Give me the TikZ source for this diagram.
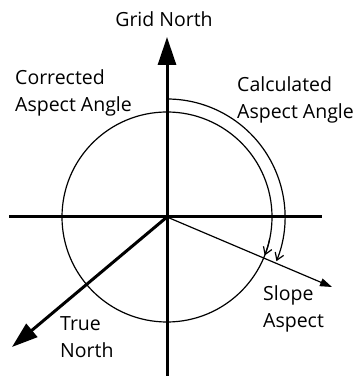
\documentclass[tikz,border=0pt]{standalone}
\usepackage{fontspec}
\setmainfont{Open Sans}
\usetikzlibrary{arrows.meta}
\begin{document}
\begin{tikzpicture}[x=1pt,y=1pt,
  axisline/.style={line width=3pt},
  thinline/.style={line width=1.2pt},
  lbl/.style={inner sep=0pt,anchor=base west,font=\fontsize{19.5}{22}\selectfont},
]
\useasboundingbox (0,0) rectangle (361,377);
\coordinate (O) at (167,160);
\coordinate (gn) at (167,340);
\coordinate (bot) at (167,1);
\coordinate (lft) at (9,160);
\coordinate (rgt) at (322,160);
\coordinate (tn) at (12,30);
\coordinate (sa) at (332,90);
% axes
\draw[axisline,-{Triangle[length=28pt,width=18pt]}] (bot) -- (gn);
\draw[axisline] (lft) -- (rgt);
% circle
\draw[thinline] (O) circle (105);
\draw[thinline,-{Straight Barb[length=7pt,width=9pt]}] ([shift={(-12:105)}]O) arc[start angle=-12,end angle=-21.5,radius=105];
% outer arc
\draw[thinline,-{Straight Barb[length=7pt,width=9pt]}] ([shift={(90:118)}]O) -- ([shift={(90:118)}]O) arc[start angle=90,end angle=-22,radius=118];
% true north
\draw[axisline,-{Triangle[length=26pt,width=17pt]}] (O) -- (tn);
% slope aspect
\draw[thinline,-{Triangle[length=12pt,width=8pt]}] (O) -- (sa);
% labels
\node[lbl,anchor=base] (tgn) at (164,350) {Grid North};
\node[lbl] (tc1) at (15,292) {Corrected};
\node[lbl] (tc2) at (15,265) {Aspect Angle};
\node[lbl] (tk1) at (237,285) {Calculated};
\node[lbl] (tk2) at (237,258) {Aspect Angle};
\node[lbl] (ts1) at (263,76) {Slope};
\node[lbl] (ts2) at (263,49) {Aspect};
\node[lbl] (tt1) at (60,46) {True};
\node[lbl] (tt2) at (60,19) {North};
\end{tikzpicture}
\end{document}
